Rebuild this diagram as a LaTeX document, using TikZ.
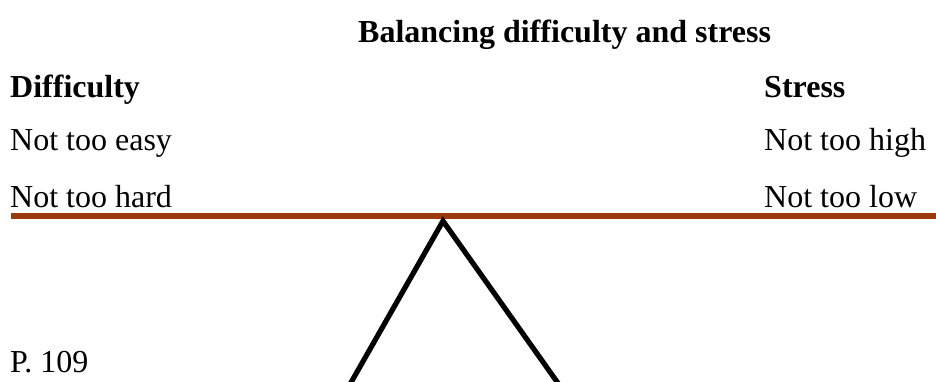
\documentclass[tikz,border=0pt]{standalone}
\usepackage{fontspec}
\setmainfont{Liberation Serif}
\usetikzlibrary{positioning, calc}
\definecolor{beambrown}{RGB}{158,58,10}
\tikzset{
  txt/.style     = {anchor=base west, inner sep=0pt,
                    font=\fontsize{32}{38}\selectfont},
  head/.style    = {txt, font=\fontsize{32}{38}\selectfont\bfseries},
  beam/.style    = {line width=5.5pt, beambrown},
  fulcrum/.style = {line width=5.2pt, black, line join=miter},
}
\begin{document}
\begin{tikzpicture}[x=1pt, y=-1pt]
  \useasboundingbox (0,0) rectangle (936,381);

  % =====================================================================
  % headings and the two columns
  % =====================================================================
  \node[head] (title)  at (358,42)  {Balancing difficulty and stress};
  \node[head] (diff)   at (10,97)   {Difficulty};
  \node[txt]  (easy)   at (10,150)  {Not too easy};
  \node[txt]  (hard)   at (10,207)  {Not too hard};
  \node[head] (stress) at (764,97)  {Stress};
  \node[txt]  (high)   at (764,150) {Not too high};
  \node[txt]  (low)    at (764,207) {Not too low};
  \node[txt]  (page)   at (10,372)  {P. 109};

  % =====================================================================
  % the see-saw: beam on a fulcrum
  % =====================================================================
  \coordinate (bl)   at (11,216);
  \coordinate (br)   at (940,216);
  \coordinate (apex) at (443,221);
  \coordinate (fl)   at (349,386);
  \coordinate (fr)   at (560,386);

  \draw[beam]    (bl) -- (br);
  \draw[fulcrum] (fl) -- (apex) -- (fr);

\end{tikzpicture}
\end{document}
